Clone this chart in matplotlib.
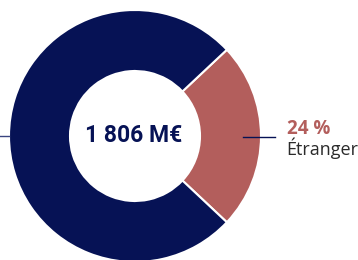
import matplotlib.pyplot as plt

# share of revenue
labels = ['Étranger', 'France']
shares = [24, 76]
colors = ['#b35e5c', '#061255']
total_label = '1 806 M€'
pct_label = '24 %'

fig = plt.figure(figsize=(3.58, 2.6), dpi=100)
ax = fig.add_axes([0, 0, 1, 1])

# red slice centred on the right side
start = -shares[0] / 100 * 360 / 2
ax.pie(shares, colors=colors, startangle=start, counterclock=True,
       center=(135, 124), radius=126,
       wedgeprops=dict(width=61, edgecolor='white', linewidth=1.5))

ax.set_xlim(0, 358)
ax.set_ylim(0, 260)
ax.set_aspect('equal')
ax.axis('off')

# leader lines
ax.plot([243, 275], [123, 123], color='#061255', lw=1)
ax.plot([0, 9], [124, 124], color='#3a4580', lw=1)

ax.text(134, 124, total_label, ha='center', va='center', fontsize=16.5,
        fontweight='bold', color='#061255', family='Roboto')
ax.text(287, 126, pct_label, ha='left', va='baseline', fontsize=13.5,
        fontweight='bold', color='#b35e5c', family='Open Sans')
ax.text(286, 105, labels[0], ha='left', va='baseline', fontsize=13,
        color='#2b2b2b', family='Open Sans')

fig.savefig('out.png', dpi=100)
